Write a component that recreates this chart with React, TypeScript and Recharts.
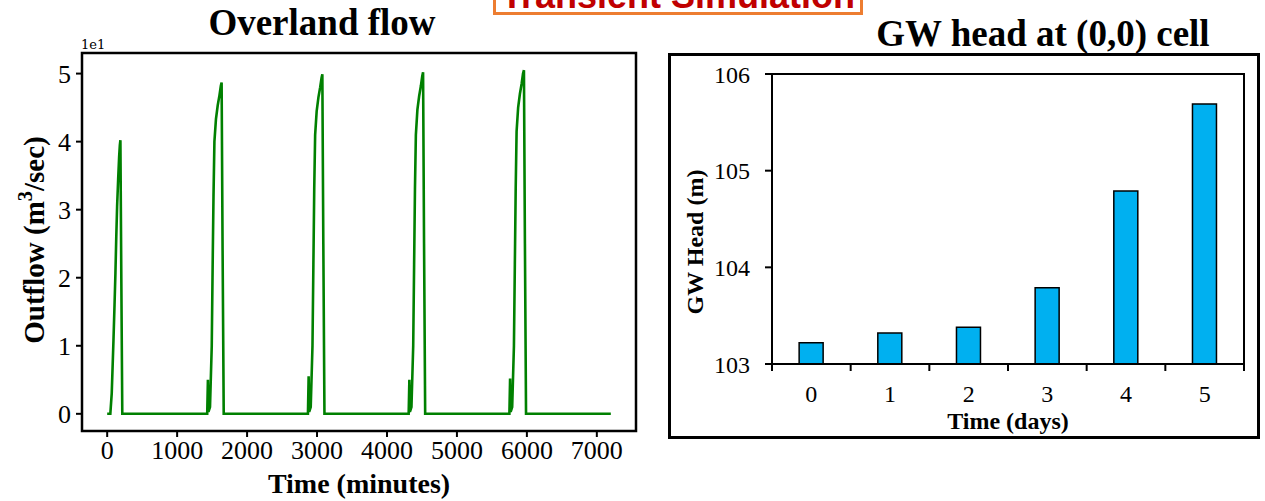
import React from 'react';
import { LineChart, Line, XAxis, YAxis, ReferenceArea, BarChart, Bar } from 'recharts';

// ---------- Overland flow (values shown in units of 1e1 m3/sec) ----------
const flowTime = [
  0, 45, 65, 90, 105, 118, 130, 142, 157, 171, 181, 189, 202, 216,
  1430, 1440, 1448, 1470, 1495, 1508, 1520, 1533, 1555, 1580, 1605, 1625, 1636, 1650, 1666,
  2870, 2880, 2888, 2910, 2935, 2948, 2960, 2973, 2995, 3020, 3045, 3065, 3076, 3090, 3106,
  4310, 4320, 4328, 4350, 4375, 4388, 4400, 4413, 4435, 4460, 4485, 4505, 4516, 4530, 4546,
  5750, 5760, 5768, 5790, 5815, 5828, 5840, 5853, 5875, 5900, 5925, 5945, 5958, 5972, 5988,
  7200,
];
const flowValue = [
  0, 0, 0.3, 1.08, 1.6, 2.07, 2.6, 3.05, 3.45, 3.78, 3.95, 4.02, 2.0, 0,
  0, 0.5, 0.03, 0.1, 1.0, 2.2, 3.2, 4.0, 4.33, 4.53, 4.68, 4.82, 4.87, 2.4, 0,
  0, 0.55, 0.03, 0.1, 1.0, 2.2, 3.3, 4.1, 4.45, 4.65, 4.8, 4.94, 4.99, 2.5, 0,
  0, 0.5, 0.03, 0.1, 1.0, 2.2, 3.3, 4.1, 4.47, 4.67, 4.82, 4.97, 5.02, 2.5, 0,
  0, 0.52, 0.03, 0.1, 1.0, 2.2, 3.3, 4.15, 4.5, 4.7, 4.85, 5.0, 5.05, 2.5, 0,
  0,
];
const flowXTicks = [0, 1000, 2000, 3000, 4000, 5000, 6000, 7000];
const flowYTicks = [0, 1, 2, 3, 4, 5];
const flowXDomain = [-360, 7560];
const flowYDomain = [-0.2525, 5.3025];

// ---------- GW head ----------
const dayLabels = ['0', '1', '2', '3', '4', '5'];
const gwHead = [103.22, 103.32, 103.38, 103.79, 104.79, 105.69];
const gwTicks = [103, 104, 105, 106];
const gwDomain = [103, 106];

const flowData = flowTime.map((t, i) => ({ t, q: flowValue[i] }));
const gwData = dayLabels.map((day, i) => ({ day, head: gwHead[i] }));

const SERIF = 'Liberation Serif, Times New Roman, serif';
const DAY_TICK = 7;
const DAY_MARGIN = 14;

function DayTick(props: any) {
  const { x, y, payload, index } = props;
  const off = payload && typeof payload.offset === 'number' ? payload.offset : 0;
  const axisY = y - DAY_TICK - DAY_MARGIN;
  const last = index === dayLabels.length - 1;
  return (
    <g>
      <line x1={x - off} x2={x - off} y1={axisY} y2={axisY + DAY_TICK} stroke="#000" strokeWidth={2} />
      {last ? (
        <line x1={x + off} x2={x + off} y1={axisY} y2={axisY + DAY_TICK} stroke="#000" strokeWidth={2} />
      ) : null}
      <text x={x} y={y} dy="0.71em" textAnchor="middle" fontSize={24} fontFamily={SERIF} fill="#000">
        {payload.value}
      </text>
    </g>
  );
}

const abs = (s: React.CSSProperties): React.CSSProperties => ({ position: 'absolute', ...s });

export default function App() {
  return (
    <div
      style={{
        position: 'fixed',
        left: 0,
        top: 0,
        width: 1265,
        height: 501,
        background: '#fff',
        overflow: 'hidden',
        fontFamily: SERIF,
      }}
    >
      {/* Transient Simulation box (cut at top) */}
      <div
        style={abs({
          left: 493,
          top: -30,
          width: 370,
          height: 45,
          border: '3px solid #ED7D31',
          boxSizing: 'border-box',
          background: '#fff',
        })}
      >
        <div
          style={abs({
            left: 0,
            top: 4.5,
            width: '100%',
            textAlign: 'center',
            fontFamily: 'Liberation Sans, Arial, sans-serif',
            fontWeight: 'bold',
            fontSize: 36,
            lineHeight: '36px',
            color: '#C00000',
            whiteSpace: 'nowrap',
          })}
        >
          Transient Simulation
        </div>
      </div>

      {/* Left chart */}
      <div style={abs({ left: 0, top: 0 })}>
        <LineChart
          width={660}
          height={501}
          data={flowData}
          margin={{ top: 53, right: 24, bottom: 30, left: 0 }}
        >
          <XAxis
            dataKey="t"
            type="number"
            domain={flowXDomain}
            ticks={flowXTicks}
            allowDataOverflow
            interval={0}
            height={40}
            tickSize={6}
            tickMargin={4}
            tick={{ fill: '#000', fontSize: 26, fontFamily: SERIF }}
            axisLine={{ stroke: '#000', strokeWidth: 2 }}
            tickLine={{ stroke: '#000', strokeWidth: 2 }}
          />
          <YAxis
            type="number"
            domain={flowYDomain}
            ticks={flowYTicks}
            allowDataOverflow
            interval={0}
            width={82}
            tickSize={6}
            tickMargin={5}
            tick={{ fill: '#000', fontSize: 26, fontFamily: SERIF }}
            axisLine={{ stroke: '#000', strokeWidth: 2 }}
            tickLine={{ stroke: '#000', strokeWidth: 2 }}
          />
          <ReferenceArea
            x1={flowXDomain[0]}
            x2={flowXDomain[1]}
            y1={flowYDomain[0]}
            y2={flowYDomain[1]}
            fill="none"
            fillOpacity={0}
            stroke="#000"
            strokeWidth={2.5}
            ifOverflow="visible"
          />
          <Line
            dataKey="q"
            type="linear"
            stroke="#008000"
            strokeWidth={2.6}
            dot={false}
            isAnimationActive={false}
          />
        </LineChart>
      </div>

      {/* Left titles / labels */}
      <div
        style={abs({
          left: 172,
          width: 300,
          top: 4,
          textAlign: 'center',
          fontWeight: 'bold',
          fontSize: 37,
          lineHeight: '37px',
          whiteSpace: 'nowrap',
        })}
      >
        Overland flow
      </div>
      <div
        style={abs({
          left: 81,
          top: 38,
          fontFamily: 'DejaVu Serif, serif',
          fontSize: 13,
          lineHeight: '13px',
        })}
      >
        1e1
      </div>
      <div
        style={abs({
          left: 34,
          top: 240,
          transform: 'translate(-50%, -50%) rotate(-90deg)',
          fontWeight: 'bold',
          fontSize: 29,
          lineHeight: '29px',
          whiteSpace: 'nowrap',
        })}
      >
        Outflow (m<sup style={{ fontSize: '0.7em', verticalAlign: '0.55em', lineHeight: 0 }}>3</sup>/sec)
      </div>
      <div
        style={abs({
          left: 209,
          width: 300,
          top: 470,
          textAlign: 'center',
          fontWeight: 'bold',
          fontSize: 28,
          lineHeight: '28px',
          whiteSpace: 'nowrap',
        })}
      >
        Time (minutes)
      </div>

      {/* Right chart outer frame */}
      <div
        style={abs({
          left: 668,
          top: 53,
          width: 592,
          height: 386,
          border: '3px solid #000',
          boxSizing: 'border-box',
        })}
      />
      <div
        style={abs({
          left: 843,
          width: 400,
          top: 15,
          textAlign: 'center',
          fontWeight: 'bold',
          fontSize: 37,
          lineHeight: '37px',
          whiteSpace: 'nowrap',
        })}
      >
        GW head at (0,0) cell
      </div>

      {/* Right chart */}
      <div style={abs({ left: 660, top: 0 })}>
        <BarChart
          width={605}
          height={501}
          data={gwData}
          margin={{ top: 74, right: 21, bottom: 97, left: 0 }}
          barCategoryGap="34.5%"
        >
          <XAxis
            dataKey="day"
            height={40}
            interval={0}
            tickSize={DAY_TICK}
            tickMargin={DAY_MARGIN}
            tickLine={false}
            axisLine={{ stroke: '#000', strokeWidth: 2 }}
            tick={<DayTick />}
          />
          <YAxis
            type="number"
            domain={gwDomain}
            ticks={gwTicks}
            allowDataOverflow
            interval={0}
            width={112}
            tickSize={7}
            tickMargin={15}
            tick={{ fill: '#000', fontSize: 24, fontFamily: SERIF }}
            axisLine={{ stroke: '#000', strokeWidth: 2 }}
            tickLine={{ stroke: '#000', strokeWidth: 2 }}
          />
          <ReferenceArea
            x1={dayLabels[0]}
            x2={dayLabels[dayLabels.length - 1]}
            y1={gwDomain[0]}
            y2={gwDomain[1]}
            fill="none"
            fillOpacity={0}
            stroke="#000"
            strokeWidth={2}
            ifOverflow="visible"
          />
          <Bar dataKey="head" fill="#00B0F0" stroke="#000" strokeWidth={1.5} isAnimationActive={false} />
        </BarChart>
      </div>

      {/* Right labels */}
      <div
        style={abs({
          left: 695,
          top: 242,
          transform: 'translate(-50%, -50%) rotate(-90deg)',
          fontWeight: 'bold',
          fontSize: 24,
          lineHeight: '24px',
          whiteSpace: 'nowrap',
        })}
      >
        GW Head (m)
      </div>
      <div
        style={abs({
          left: 858,
          width: 300,
          top: 409,
          textAlign: 'center',
          fontWeight: 'bold',
          fontSize: 24,
          lineHeight: '24px',
          whiteSpace: 'nowrap',
        })}
      >
        Time (days)
      </div>
    </div>
  );
}
